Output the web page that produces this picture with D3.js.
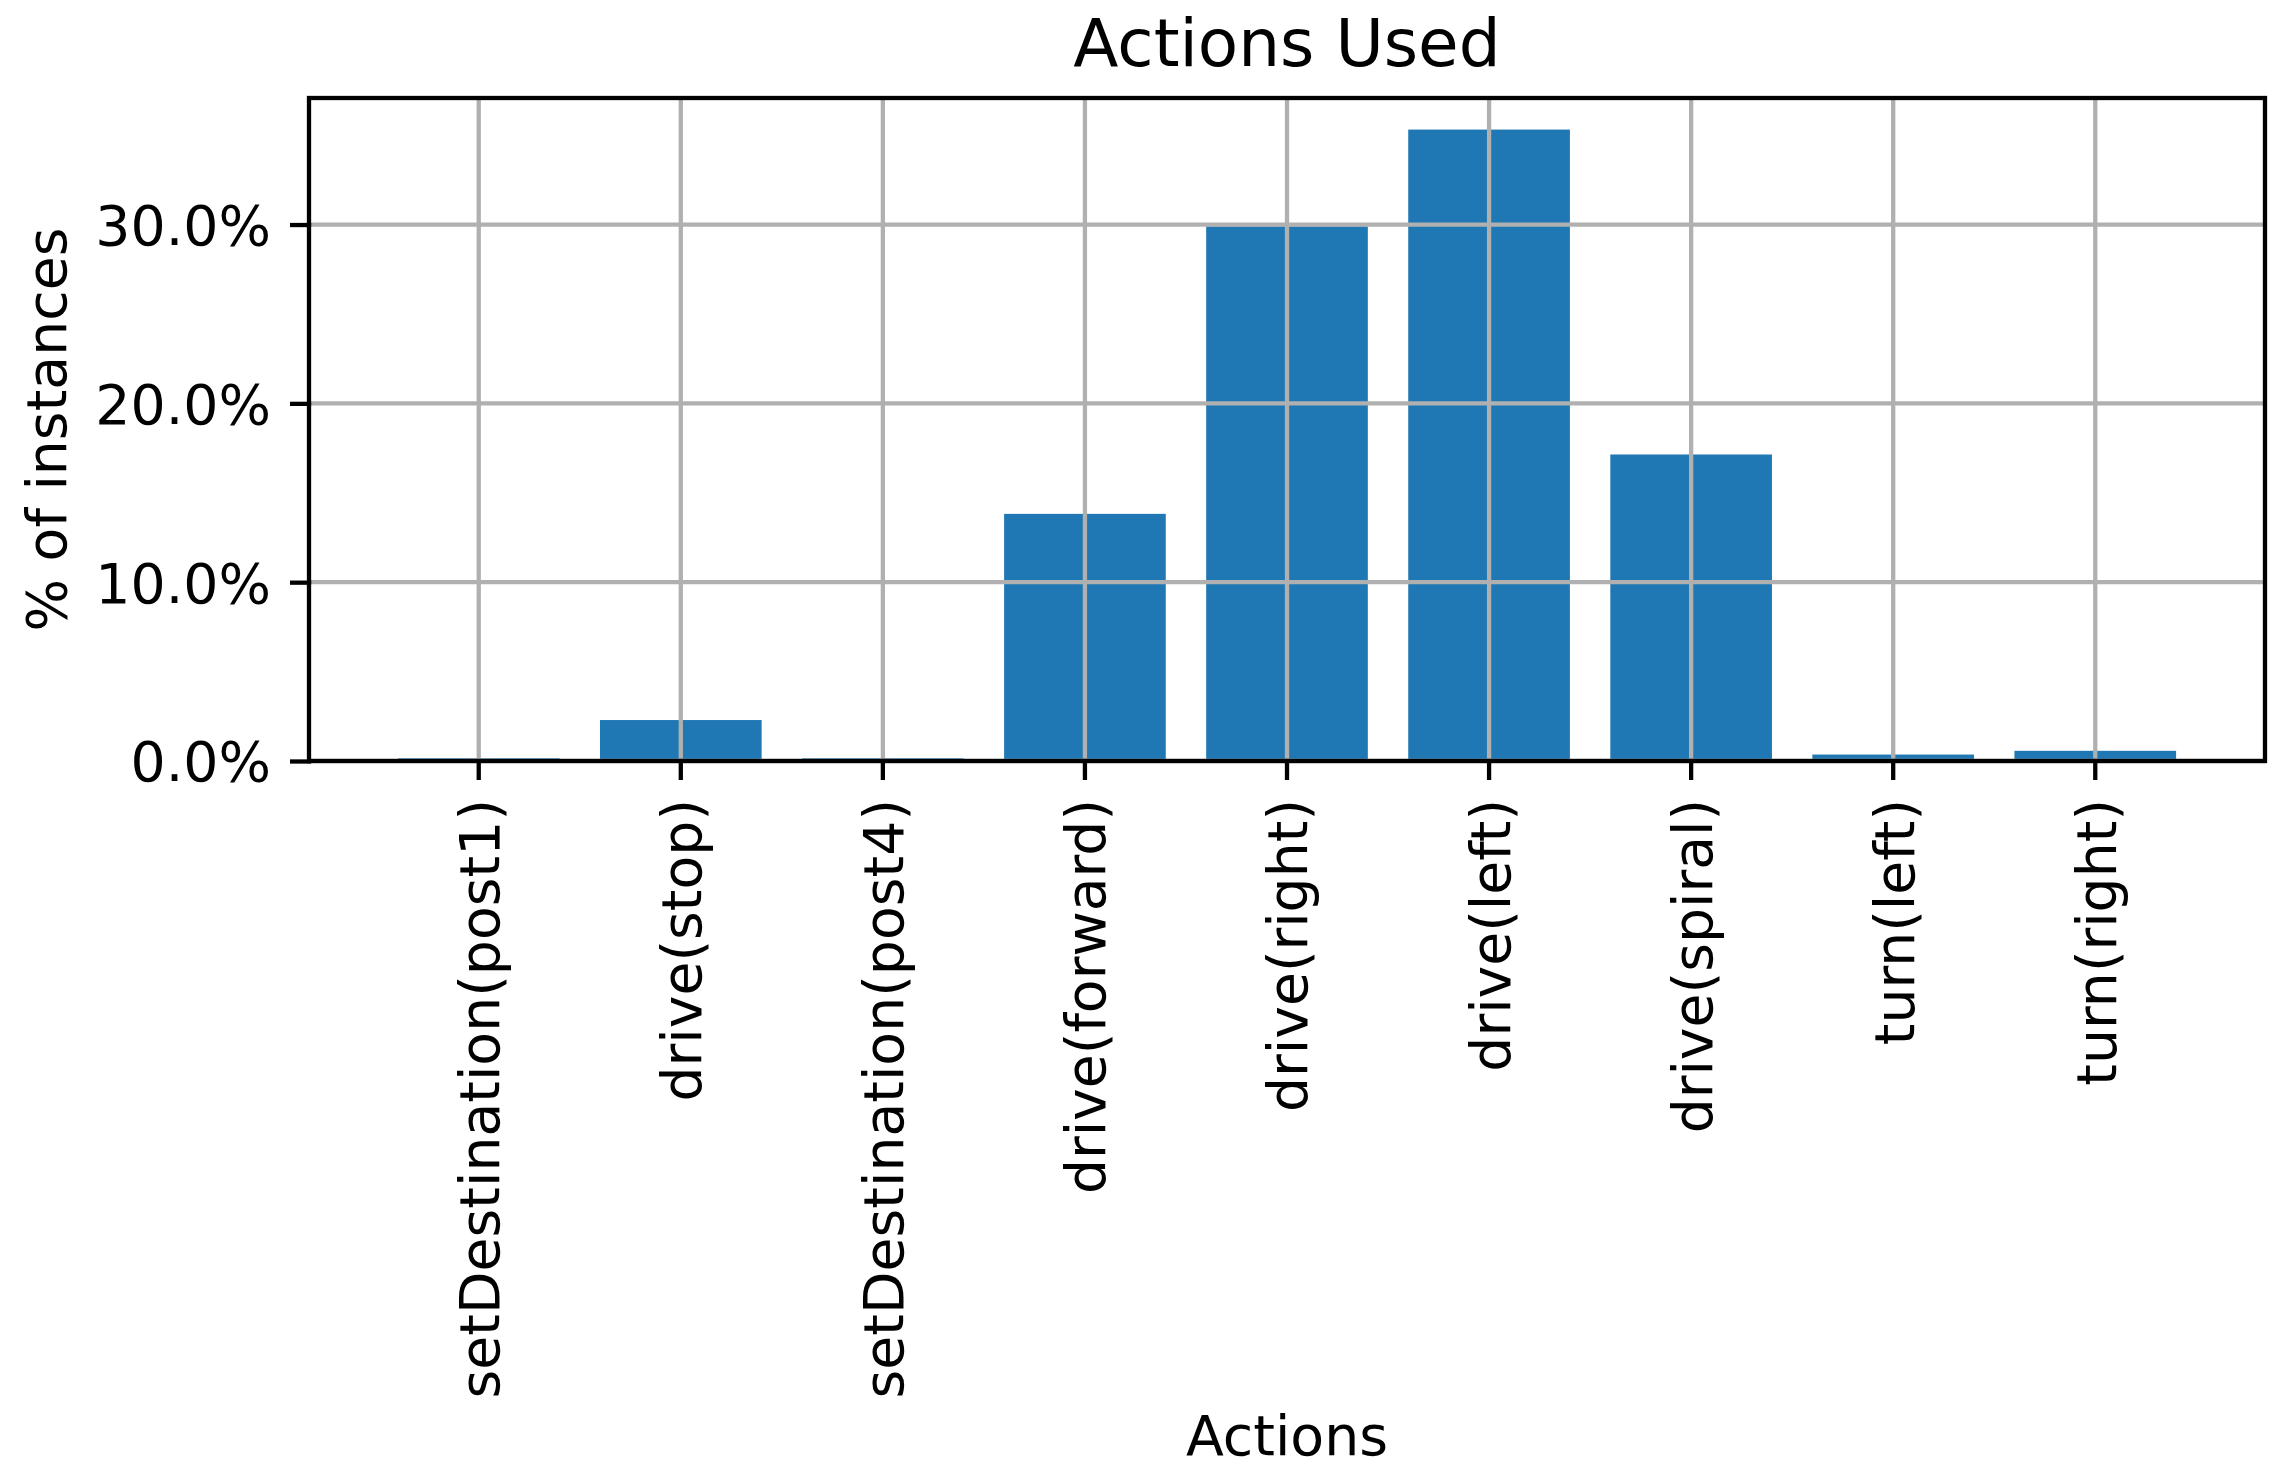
<!DOCTYPE html>
<html>
<head>
<meta charset="utf-8">
<script src="https://cdn.jsdelivr.net/npm/d3@7"></script>
<style>
  body { margin: 0; background: #fff; }
  svg { display: block; }
  text { font-family: "DejaVu Sans", sans-serif; fill: #000; }
</style>
</head>
<body>
<svg id="chart" width="2285" height="1483"></svg>
<script>
const categories = ["setDestination(post1)", "drive(stop)", "setDestination(post4)", "drive(forward)", "drive(right)", "drive(left)", "drive(spiral)", "turn(left)", "turn(right)"];
const values = [0.15, 2.29, 0.15, 13.82, 29.90, 35.31, 17.14, 0.36, 0.57];
const yTicks = [0, 10, 20, 30];
const title = "Actions Used";
const xLabel = "Actions";
const yLabel = "% of instances";

const W = 2285, H = 1483;
const m = { left: 309, right: 2265, top: 98, bottom: 761 };
const svg = d3.select("#chart");
const lw = 4.3, tickLen = 19, pad = 19, fs = 55.3;

const x = d3.scaleBand().domain(categories).range([m.left, m.right]).paddingInner(0.2).paddingOuter(0.44);
const y = d3.scaleLinear().domain([0, d3.max(values) * 1.05]).range([m.bottom, m.top]);

// bars
svg.append("g").selectAll("rect").data(values).join("rect")
  .attr("x", (d, i) => x(categories[i]))
  .attr("width", x.bandwidth())
  .attr("y", d => y(d))
  .attr("height", d => y(0) - y(d))
  .attr("fill", "#1f77b4");

// grid (above bars, like matplotlib)
const grid = svg.append("g").attr("stroke", "#b0b0b0").attr("stroke-width", lw);
grid.selectAll("line.v").data(categories).join("line").attr("class", "v")
  .attr("x1", d => x(d) + x.bandwidth() / 2).attr("x2", d => x(d) + x.bandwidth() / 2)
  .attr("y1", m.top).attr("y2", m.bottom);
grid.selectAll("line.h").data(yTicks).join("line").attr("class", "h")
  .attr("x1", m.left).attr("x2", m.right)
  .attr("y1", d => y(d)).attr("y2", d => y(d));

// x axis
const xAxis = d3.axisBottom(x).tickSize(tickLen + lw / 2).tickPadding(pad).tickSizeOuter(0);
const gx = svg.append("g").attr("transform", `translate(0,${m.bottom - lw / 2})`).call(xAxis);
gx.select(".domain").remove();
gx.selectAll(".tick line").attr("stroke", "#000").attr("stroke-width", lw);
gx.selectAll(".tick text")
  .attr("font-size", fs)
  .attr("font-family", "DejaVu Sans")
  .attr("text-anchor", "end")
  .attr("transform", `translate(0,${tickLen + lw / 2 + pad}) rotate(-90)`)
  .attr("x", 0).attr("y", 0).attr("dy", "0.37em");

// y axis
const yAxis = d3.axisLeft(y).tickValues(yTicks).tickFormat(d => d.toFixed(1) + "%").tickSize(tickLen + lw / 2).tickPadding(pad);
const gy = svg.append("g").attr("transform", `translate(${m.left + lw / 2},0)`).call(yAxis);
gy.select(".domain").remove();
gy.selectAll(".tick line").attr("stroke", "#000").attr("stroke-width", lw);
gy.selectAll(".tick text").attr("font-size", fs).attr("font-family", "DejaVu Sans").attr("dy", "0.36em");

// spines
svg.append("rect").attr("x", m.left).attr("y", m.top)
  .attr("width", m.right - m.left).attr("height", m.bottom - m.top)
  .attr("fill", "none").attr("stroke", "#000").attr("stroke-width", lw);

// title & labels
svg.append("text").attr("x", (m.left + m.right) / 2).attr("y", 66)
  .attr("text-anchor", "middle").attr("font-size", 66).text(title);
svg.append("text").attr("x", (m.left + m.right) / 2).attr("y", 1455)
  .attr("text-anchor", "middle").attr("font-size", fs).text(xLabel);
svg.append("text").attr("transform", `translate(66,${(m.top + m.bottom) / 2}) rotate(-90)`)
  .attr("text-anchor", "middle").attr("font-size", fs).text(yLabel);
</script>
</body>
</html>
